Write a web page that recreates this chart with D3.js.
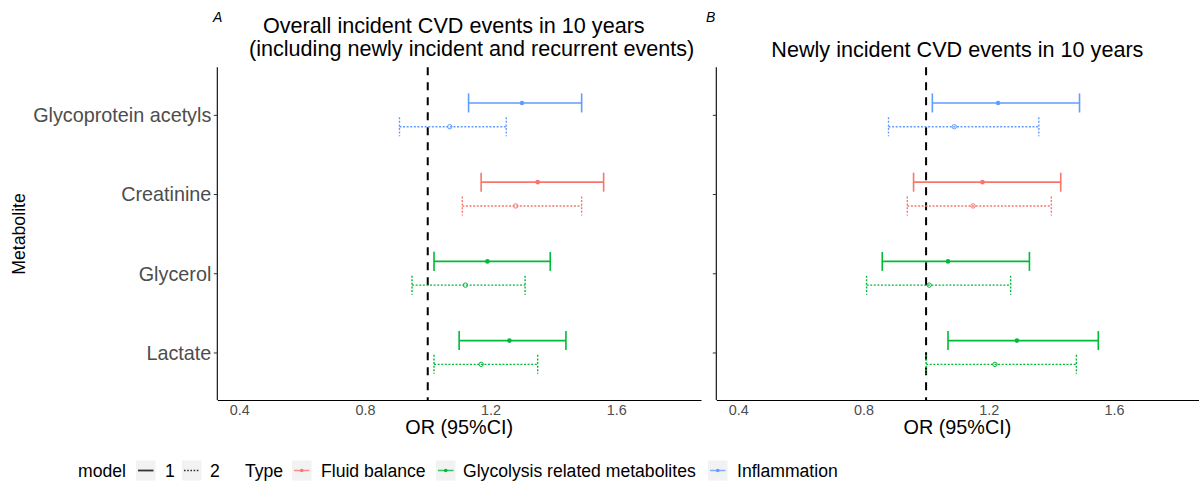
<!DOCTYPE html>
<html>
<head>
<meta charset="utf-8">
<script src="https://cdn.jsdelivr.net/npm/d3@7"></script>
<style>
  html, body { margin: 0; padding: 0; background: #fff; }
  svg { display: block; font-family: "Liberation Sans", Arial, sans-serif; }
</style>
</head>
<body>
<svg id="chart" width="1203" height="484"></svg>
<script>
// ---------------- data ----------------
const categories = ["Glycoprotein acetyls", "Creatinine", "Glycerol", "Lactate"];
const types = ["Inflammation", "Fluid balance", "Glycolysis related metabolites", "Glycolysis related metabolites"];
const typeNames = ["Fluid balance", "Glycolysis related metabolites", "Inflammation"];
const typeColors = ["#F8766D", "#00BA38", "#619CFF"];
const models = ["1", "2"];

// Panel A: overall incident CVD events
const aM1OR = [1.30, 1.35, 1.19, 1.26];
const aM1Lo = [1.13, 1.17, 1.02, 1.10];
const aM1Hi = [1.49, 1.56, 1.39, 1.44];
const aM2OR = [1.07, 1.28, 1.12, 1.17];
const aM2Lo = [0.91, 1.11, 0.95, 1.02];
const aM2Hi = [1.25, 1.49, 1.31, 1.35];

// Panel B: newly incident CVD events
const bM1OR = [1.23, 1.18, 1.07, 1.29];
const bM1Lo = [1.02, 0.96, 0.86, 1.07];
const bM1Hi = [1.49, 1.43, 1.33, 1.55];
const bM2OR = [1.09, 1.15, 1.01, 1.22];
const bM2Lo = [0.88, 0.94, 0.81, 1.00];
const bM2Hi = [1.36, 1.40, 1.27, 1.48];

const xTicks = [0.4, 0.8, 1.2, 1.6];
const xLimits = [0.4, 1.8];
const refLine = 1;

// ---------------- layout ----------------
const svg = d3.select("#chart");
const yTop = 67.3, yBottom = 400;
const colorScale = d3.scaleOrdinal().domain(typeNames).range(typeColors);
const pad = (xLimits[1] - xLimits[0]) * 0.05;
const xDomain = [xLimits[0] - pad, xLimits[1] + pad];

const y = d3.scalePoint().domain(categories).range([yTop, yBottom]).padding(0.6);
const step = y.step();
const dodge = 0.15 * step;
const capHalf = 0.12 * step;

function buildRows(m1, l1, h1, m2, l2, h2) {
  const rows = [];
  categories.forEach((c, i) => {
    rows.push({cat: c, type: types[i], model: "1", or: m1[i], lo: l1[i], hi: h1[i]});
    rows.push({cat: c, type: types[i], model: "2", or: m2[i], lo: l2[i], hi: h2[i]});
  });
  return rows;
}

const panels = [
  {x0: 217.3, x1: 701, label: "A", labelX: 213, showY: true,
   title: ["Overall incident CVD events in 10 years", "(including newly incident and recurrent events)"],
   rows: buildRows(aM1OR, aM1Lo, aM1Hi, aM2OR, aM2Lo, aM2Hi)},
  {x0: 716.3, x1: 1198.5, label: "B", labelX: 706, showY: false,
   title: ["Newly incident CVD events in 10 years"],
   rows: buildRows(bM1OR, bM1Lo, bM1Hi, bM2OR, bM2Lo, bM2Hi)}
];

panels.forEach(p => {
  const x = d3.scaleLinear().domain(xDomain).range([p.x0, p.x1]);
  const g = svg.append("g");

  // x axis (no ticks)
  const xAxis = d3.axisBottom(x).tickValues(xTicks).tickSize(0).tickPadding(0)
    .tickFormat(d3.format(".1f"));
  const gx = g.append("g").attr("transform", `translate(0,${yBottom})`).call(xAxis);
  gx.select(".domain").attr("stroke", "#000").attr("stroke-width", 1.1);
  gx.selectAll("text").attr("fill", "#4D4D4D").attr("font-size", 14.4)
    .attr("dy", 0).attr("y", 15);

  // y axis
  const yAxis = d3.axisLeft(y).tickSize(3.5).tickPadding(2.5);
  const gy = g.append("g").attr("transform", `translate(${p.x0},0)`).call(yAxis);
  gy.select(".domain").attr("stroke", "#000").attr("stroke-width", 1.1)
    .attr("d", `M0,${yTop}V${yBottom}`);
  gy.selectAll(".tick line").attr("stroke", "#333").attr("stroke-width", 1);
  if (p.showY) {
    gy.selectAll("text").attr("fill", "#4D4D4D").attr("font-size", 19.8)
      .attr("font-family", "Liberation Sans, Arial, sans-serif").attr("dy", "0.35em");
  } else {
    gy.selectAll("text").remove();
  }

  // reference line
  g.append("line")
    .attr("x1", x(refLine)).attr("x2", x(refLine))
    .attr("y1", yTop).attr("y2", yBottom)
    .attr("stroke", "#000").attr("stroke-width", 2)
    .attr("stroke-dasharray", "8,7");

  const yPos = d => y(d.cat) + (d.model === "1" ? -dodge : dodge);

  const bars = g.append("g").selectAll("g.bar").data(p.rows).join("g").attr("class", "bar");
  bars.each(function(d) {
    const b = d3.select(this);
    const col = colorScale(d.type);
    const dash = d.model === "2" ? "2,1.6" : null;
    const sw = d.model === "2" ? 1.4 : 1.6;
    const yy = yPos(d);
    b.append("line").attr("x1", x(d.lo)).attr("x2", x(d.hi)).attr("y1", yy).attr("y2", yy)
      .attr("stroke", col).attr("stroke-width", sw).attr("stroke-dasharray", dash);
    [d.lo, d.hi].forEach(v => {
      b.append("line").attr("x1", x(v)).attr("x2", x(v))
        .attr("y1", yy - capHalf).attr("y2", yy + capHalf)
        .attr("stroke", col).attr("stroke-width", sw).attr("stroke-dasharray", dash);
    });
    if (d.model === "1") {
      b.append("circle").attr("cx", x(d.or)).attr("cy", yy).attr("r", 2.3).attr("fill", col);
    } else {
      b.append("circle").attr("cx", x(d.or)).attr("cy", yy).attr("r", 2.2)
        .attr("fill", "none").attr("stroke", col).attr("stroke-width", 1);
    }
  });

  // axis title
  const cx = (p.x0 + p.x1) / 2;
  g.append("text").attr("x", cx).attr("y", 434).attr("text-anchor", "middle")
    .attr("font-size", 19.8).attr("fill", "#000").text("OR (95%CI)");

  // panel tag
  g.append("text").attr("x", p.labelX).attr("y", 22).attr("font-size", 14)
    .attr("font-style", "italic").attr("fill", "#000").text(p.label);

  // titles
  if (p.title.length === 2) {
    g.append("text").attr("x", 263).attr("y", 33).attr("font-size", 21.6).attr("fill", "#000").text(p.title[0]);
    g.append("text").attr("x", 249).attr("y", 56).attr("font-size", 21.6).attr("fill", "#000").text(p.title[1]);
  } else {
    g.append("text").attr("x", cx).attr("y", 57).attr("text-anchor", "middle")
      .attr("font-size", 21.6).attr("fill", "#000").text(p.title[0]);
  }
});

// y axis title
svg.append("text").attr("transform", "translate(25,234) rotate(-90)")
  .attr("text-anchor", "middle").attr("font-size", 17.7).attr("fill", "#000").text("Metabolite");

// ---------------- legend ----------------
const leg = svg.append("g");
const legBase = 477;
const keyY = 460.5, keyH = 20, keyW = 19.5;
const fs = 17.6;
leg.append("text").attr("x", 78).attr("y", legBase).attr("font-size", fs).text("model");
const modelKeyX = [136, 182];
const modelLabelX = [165, 210];
models.forEach((m, i) => {
  const kx = modelKeyX[i];
  leg.append("rect").attr("x", kx).attr("y", keyY).attr("width", keyW).attr("height", keyH).attr("fill", "#F2F2F2");
  leg.append("line").attr("x1", kx + 2).attr("x2", kx + keyW - 2)
    .attr("y1", keyY + keyH / 2).attr("y2", keyY + keyH / 2)
    .attr("stroke", "#333").attr("stroke-width", i === 0 ? 1.8 : 1.6)
    .attr("stroke-dasharray", i === 0 ? null : "1.6,1.6");
  leg.append("text").attr("x", modelLabelX[i]).attr("y", legBase).attr("font-size", fs).text(m);
});
leg.append("text").attr("x", 245).attr("y", legBase).attr("font-size", fs).text("Type");
const typeKeyX = [292, 436, 708];
const typeLabelX = [321, 463, 737];
typeNames.forEach((t, i) => {
  const kx = typeKeyX[i];
  const col = colorScale(t);
  leg.append("rect").attr("x", kx).attr("y", keyY).attr("width", keyW).attr("height", keyH).attr("fill", "#F2F2F2");
  leg.append("line").attr("x1", kx + 2).attr("x2", kx + keyW - 2)
    .attr("y1", keyY + keyH / 2).attr("y2", keyY + keyH / 2)
    .attr("stroke", col).attr("stroke-width", 1.5).attr("opacity", 0.8);
  leg.append("circle").attr("cx", kx + keyW / 2).attr("cy", keyY + keyH / 2).attr("r", 1.8).attr("fill", col);
  leg.append("text").attr("x", typeLabelX[i]).attr("y", legBase).attr("font-size", fs).text(t);
});
</script>
</body>
</html>
